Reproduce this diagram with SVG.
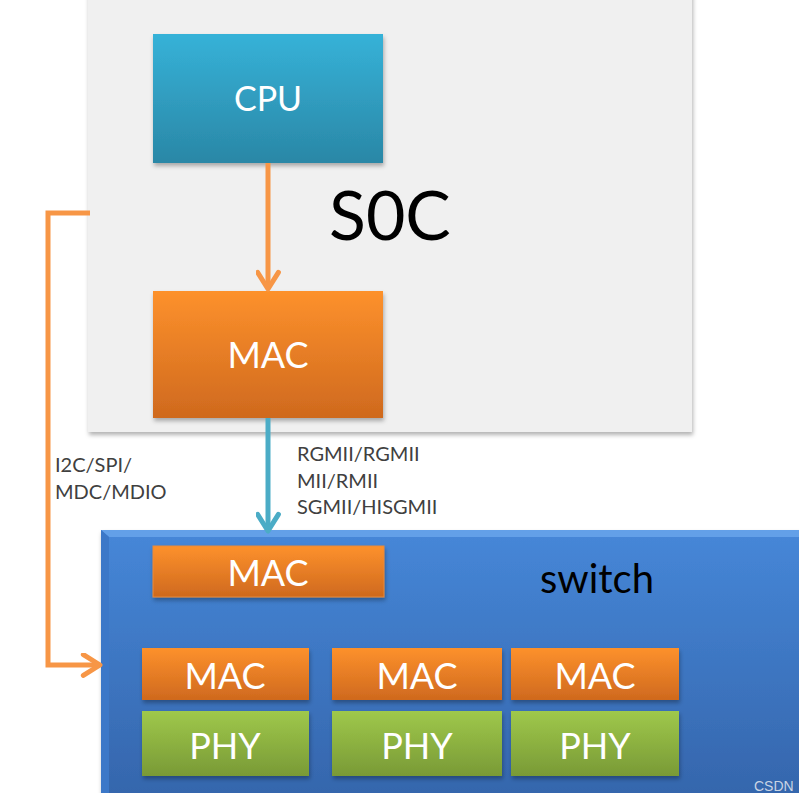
<svg xmlns="http://www.w3.org/2000/svg" width="799" height="793" viewBox="0 0 799 793">
<defs>
<linearGradient id="gCpu" x1="0" y1="0" x2="0" y2="1"><stop offset="0" stop-color="#36b2d8"/><stop offset="1" stop-color="#2a87a6"/></linearGradient>
<linearGradient id="gMac" x1="0" y1="0" x2="0" y2="1"><stop offset="0" stop-color="#fd912c"/><stop offset="1" stop-color="#cf691e"/></linearGradient>
<linearGradient id="gPhy" x1="0" y1="0" x2="0" y2="1"><stop offset="0" stop-color="#9fc84b"/><stop offset="1" stop-color="#799a36"/></linearGradient>
<linearGradient id="gSw" x1="0" y1="0" x2="0" y2="1"><stop offset="0" stop-color="#4687d8"/><stop offset="1" stop-color="#3464aa"/></linearGradient>
<filter id="sh" x="-10%" y="-10%" width="125%" height="130%"><feDropShadow dx="1" dy="3" stdDeviation="2" flood-color="#000" flood-opacity="0.3"/></filter>
<marker id="aOr" viewBox="0 0 12 12" refX="10" refY="6" markerWidth="5" markerHeight="5" orient="auto" markerUnits="strokeWidth"><path d="M2,1 L10,6 L2,11" fill="none" stroke="#f79646" stroke-width="2.4" stroke-linecap="round" stroke-linejoin="round"/></marker>
<marker id="aBl" viewBox="0 0 12 12" refX="10" refY="6" markerWidth="5" markerHeight="5" orient="auto" markerUnits="strokeWidth"><path d="M2,1 L10,6 L2,11" fill="none" stroke="#4bacc6" stroke-width="2.4" stroke-linecap="round" stroke-linejoin="round"/></marker>
</defs>
<style>
.w{font-family:Lato,"Open Sans","DejaVu Sans",sans-serif;fill:#ffffff;text-anchor:middle}
.lbl{font-family:Lato,"Open Sans","DejaVu Sans",sans-serif;fill:#404040;font-size:20px}
.blk{font-family:Lato,"Open Sans","DejaVu Sans",sans-serif;fill:#000}
</style>
<rect width="799" height="793" fill="#ffffff"/>

<g id="soc">
<rect x="88" y="-10" width="604" height="442" fill="#f0f0f0" filter="url(#sh)"/>
<text class="blk" x="329" y="240" font-size="68">S0C</text>
</g>

<g id="switch">
<rect x="101" y="530" width="720" height="280" fill="url(#gSw)" filter="url(#sh)"/>
<path d="M101,530 H799 V537 H109 Z" fill="#6aa6ec" opacity="0.8"/>
<path d="M101,530 L109,537 V793 H101 Z" fill="#3c78c8"/>
<text class="blk" x="540" y="593" font-size="40">switch</text>
</g>

<g id="cpu">
<rect x="153" y="34" width="230" height="129" fill="url(#gCpu)" filter="url(#sh)"/>
<text class="w" x="268" y="111" font-size="34">CPU</text>
</g>

<g id="mac-soc">
<rect x="153" y="291" width="230" height="127" fill="url(#gMac)" filter="url(#sh)"/>
<text class="w" x="268" y="368" font-size="36">MAC</text>
</g>

<g id="mac-sw">
<rect x="153" y="546" width="231" height="51" fill="url(#gMac)" filter="url(#sh)" stroke="#e98a3a" stroke-width="1"/>
<text class="w" x="268" y="586" font-size="36">MAC</text>
</g>

<g id="mac1">
<rect x="142" y="648" width="167" height="52" fill="url(#gMac)" filter="url(#sh)"/>
<text class="w" x="225" y="689" font-size="36">MAC</text>
</g>
<g id="mac2">
<rect x="332" y="648" width="170" height="52" fill="url(#gMac)" filter="url(#sh)"/>
<text class="w" x="417" y="689" font-size="36">MAC</text>
</g>
<g id="mac3">
<rect x="511" y="648" width="168" height="52" fill="url(#gMac)" filter="url(#sh)"/>
<text class="w" x="595" y="689" font-size="36">MAC</text>
</g>
<g id="phy1">
<rect x="142" y="711" width="167" height="65" fill="url(#gPhy)" filter="url(#sh)"/>
<text class="w" x="225" y="759" font-size="36">PHY</text>
</g>
<g id="phy2">
<rect x="332" y="711" width="170" height="65" fill="url(#gPhy)" filter="url(#sh)"/>
<text class="w" x="417" y="759" font-size="36">PHY</text>
</g>
<g id="phy3">
<rect x="511" y="711" width="168" height="65" fill="url(#gPhy)" filter="url(#sh)"/>
<text class="w" x="595" y="759" font-size="36">PHY</text>
</g>

<g id="connectors" fill="none" stroke-width="5">
<path d="M268,163 V289" stroke="#f79646" marker-end="url(#aOr)"/>
<path d="M268,418 V531" stroke="#4bacc6" marker-end="url(#aBl)"/>
<path d="M90,213 H48 V665 H100" stroke="#f79646" stroke-linejoin="miter" marker-end="url(#aOr)"/>
</g>

<g id="labels">
<text class="lbl" x="297" y="461">RGMII/RGMII</text>
<text class="lbl" x="297" y="488">MII/RMII</text>
<text class="lbl" x="297" y="514">SGMII/HISGMII</text>
<text class="lbl" x="55" y="472">I2C/SPI/</text>
<text class="lbl" x="55" y="499">MDC/MDIO</text>
</g>
<text x="754" y="791" font-family="Liberation Sans,Arial,sans-serif" font-size="14" fill="#c8d4e4">CSDN</text>
</svg>
